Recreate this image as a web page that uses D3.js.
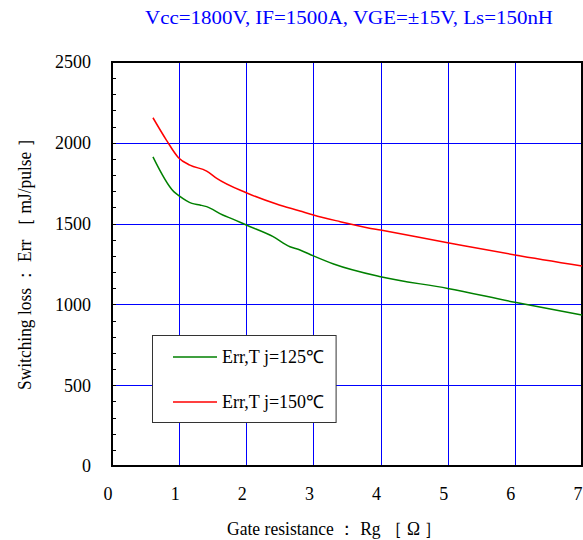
<!DOCTYPE html>
<html><head><meta charset="utf-8">
<script src="https://cdn.jsdelivr.net/npm/d3@7"></script>
<style>body{margin:0;background:#fff}svg{display:block}text{font-family:"Liberation Serif","Times New Roman",serif}</style>
</head><body>
<svg id="c" width="583" height="540"></svg>
<script>
const rg125 = [0.61,0.92,1.0,1.19,1.31,1.41,1.65,1.8,2.0,2.4,2.65,2.8,3.0,3.3,4.0,5.0,6.0,7.0];
const err125 = [1913,1698,1672,1625,1615,1605,1553,1528,1491,1419,1357,1337,1300,1250,1171,1099,1013,934];
const rg150 = [0.61,0.81,0.99,1.16,1.41,1.56,2.0,2.45,2.8,3.0,3.4,3.8,4.0,5.0,6.0,7.0];
const err150 = [2155,2017,1908,1862,1825,1780,1691,1621,1578,1553,1512,1475,1460,1382,1306,1238];
const xTicks = [0,1,2,3,4,5,6,7];
const yTicks = [0,500,1000,1500,2000,2500];
const seriesNames = ["Err,T j=125\u2103","Err,T j=150\u2103"];
const seriesColors = ["#008000","#ff0000"];
const title = "Vcc=1800V, IF=1500A, VGE=\u00b115V, Ls=150nH";
const xTitle = "Gate resistance \uff1a Rg \uff3b \u03a9 \uff3d";
const yTitle = "Switching loss \uff1a Err \uff3b mJ/pulse \uff3d";

const svg = d3.select("#c");
const L=112,R=582,T=62,B=466;
const x = d3.scaleLinear().domain([0,7]).range([L,R]);
const y = d3.scaleLinear().domain([0,2500]).range([B,T]);

svg.append("g").selectAll("line").data(xTicks.slice(1,-1)).join("line")
  .attr("x1",d=>Math.round(x(d))+0.5).attr("x2",d=>Math.round(x(d))+0.5).attr("y1",T).attr("y2",B)
  .attr("stroke","#0000ff").attr("stroke-width",1);
svg.append("g").selectAll("line").data(yTicks.slice(1,-1)).join("line")
  .attr("y1",d=>Math.round(y(d))+0.5).attr("y2",d=>Math.round(y(d))+0.5).attr("x1",L).attr("x2",R)
  .attr("stroke","#0000ff").attr("stroke-width",1);

const minor = d3.range(100,2500,100);
svg.append("g").selectAll("line").data(minor).join("line")
  .attr("x1",L).attr("x2",L+4).attr("y1",d=>Math.round(y(d))+0.5).attr("y2",d=>Math.round(y(d))+0.5)
  .attr("stroke","#000");

svg.append("rect").attr("x",L).attr("y",T).attr("width",R-L).attr("height",B-T)
  .attr("fill","none").attr("stroke","#000").attr("stroke-width",2);

svg.append("g").selectAll("text").data(yTicks).join("text")
  .attr("x",91).attr("y",d=>y(d)).attr("dy","0.35em").attr("text-anchor","end")
  .attr("font-size",18).text(d=>d);
svg.append("g").selectAll("text").data(xTicks).join("text")
  .attr("x",d=>x(d)-4).attr("y",500).attr("text-anchor","middle")
  .attr("font-size",18).text(d=>d);

svg.append("text").attr("x",145).attr("y",24)
  .attr("font-size",18).attr("fill","#0000ff")
  .attr("textLength",408).attr("lengthAdjust","spacingAndGlyphs").text(title);
svg.append("text").attr("x",227).attr("y",535)
  .attr("font-size",18).attr("textLength",215).attr("lengthAdjust","spacingAndGlyphs").text(xTitle);
svg.append("text").attr("transform","translate(31,390) rotate(-90)")
  .attr("font-size",18).attr("textLength",260).attr("lengthAdjust","spacingAndGlyphs").text(yTitle);

const line = d3.line().x(d=>x(d[0])).y(d=>y(d[1])).curve(d3.curveMonotoneX);
const data = [d3.zip(rg125,err125), d3.zip(rg150,err150)];
svg.append("g").selectAll("path").data(data).join("path")
  .attr("d",line).attr("fill","none").attr("stroke",(d,i)=>seriesColors[i]).attr("stroke-width",1.5);

const lg = svg.append("g");
const box = lg.append("rect").attr("x",152.5).attr("y",335.5).attr("height",87)
  .attr("fill","#fff").attr("stroke","#333").attr("stroke-width",1);
let maxW = 0;
seriesNames.forEach((n,i)=>{
  const yy = 357 + i*45;
  lg.append("line").attr("x1",173).attr("x2",217).attr("y1",yy).attr("y2",yy)
    .attr("stroke",seriesColors[i]).attr("stroke-width",1.5);
  const t = lg.append("text").attr("x",222).attr("y",yy).attr("dy","0.35em").attr("font-size",18).text(n);
  maxW = Math.max(maxW, t.node().getComputedTextLength());
});
box.attr("width", 222 + maxW + 12 - 152.5);
</script>
</body></html>
